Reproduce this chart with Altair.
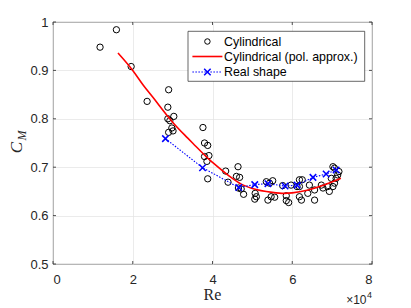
import altair as alt
import pandas as pd

# ---- data (Re in units of 1e4) ----
cyl_re = [1.18, 1.59, 1.96, 2.36, 2.90, 2.88, 3.03, 2.88, 2.93, 2.98, 3.01, 2.90,
          3.76, 3.80, 3.88, 3.80, 3.91, 3.86, 3.88, 4.33, 4.39, 4.64, 4.60, 4.68,
          4.65, 4.72, 4.78, 5.07, 5.10, 5.06, 5.35, 5.43, 5.51, 5.39, 5.47, 5.56,
          5.76, 5.85, 5.85, 5.91, 5.97, 6.18, 6.25, 6.18, 6.12, 6.18, 6.23, 6.56,
          6.43, 6.39, 6.56, 6.73, 6.77, 6.93, 6.89, 7.02, 7.06, 7.10, 6.98, 7.02,
          7.06, 7.17, 7.14]
cyl_cm = [0.948, 0.984, 0.908, 0.836, 0.860, 0.824, 0.805, 0.800, 0.796, 0.781, 0.775, 0.772,
          0.782, 0.750, 0.745, 0.722, 0.724, 0.712, 0.676, 0.692, 0.669, 0.701, 0.681, 0.679,
          0.657, 0.655, 0.644, 0.646, 0.639, 0.634, 0.670, 0.667, 0.672, 0.632, 0.639, 0.638,
          0.662, 0.641, 0.631, 0.627, 0.663, 0.674, 0.674, 0.660, 0.660, 0.639, 0.632, 0.632,
          0.663, 0.646, 0.653, 0.663, 0.657, 0.650, 0.660, 0.660, 0.667, 0.677, 0.677, 0.701,
          0.698, 0.691, 0.684]

fit_re = [1.63, 2.0, 2.26, 2.5, 2.88, 3.0, 3.38, 3.5, 3.93, 4.0, 4.43, 4.72,
          5.0, 5.5, 5.8, 6.0, 6.4, 6.8, 7.22]
fit_cm = [0.936, 0.900, 0.870, 0.845, 0.805, 0.793, 0.760, 0.750, 0.715, 0.710, 0.681, 0.665,
          0.656, 0.648, 0.646, 0.647, 0.653, 0.663, 0.677]

real_re = [2.82, 3.75, 4.66, 5.06, 5.39, 5.82, 6.12, 6.52, 6.85, 7.10]
real_cm = [0.759, 0.699, 0.658, 0.664, 0.666, 0.661, 0.663, 0.679, 0.686, 0.694]

x_ticks = [0, 20000, 40000, 60000, 80000]
y_ticks = [0.5, 0.6, 0.7, 0.8, 0.9, 1.0]
legend_labels = ["Cylindrical", "Cylindrical (pol. approx.)", "Real shape"]

SCALE = 10000
cyl = pd.DataFrame({"Re": [v * SCALE for v in cyl_re], "CM": cyl_cm})
fit = pd.DataFrame({"Re": [v * SCALE for v in fit_re], "CM": fit_cm})
real = pd.DataFrame({"Re": [v * SCALE for v in real_re], "CM": real_cm})
xt = pd.DataFrame({"Re": x_ticks})
yt = pd.DataFrame({"CM": y_ticks})
one = pd.DataFrame({"k": [0]})

W, H = 319, 242
AX = "#262626"
FONT = "Liberation Sans"
SERIF = "Liberation Serif"

xs = alt.Scale(domain=[0, 80000], nice=False, zero=False)
ys = alt.Scale(domain=[0.5, 1.0], nice=False, zero=False)

x_axis = alt.Axis(values=x_ticks, labelExpr="datum.value / 10000", title=None,
                  grid=True, gridColor="#e2e2e2", gridWidth=0.7, ticks=False,
                  domain=False, labelFont=FONT, labelFontSize=13, labelColor=AX,
                  labelPadding=9)
y_axis = alt.Axis(values=y_ticks, labelExpr="datum.value == 1 ? '1' : format(datum.value, '.1f')",
                  title=None, grid=True, gridColor="#e2e2e2", gridWidth=0.7, ticks=False,
                  domain=False, labelFont=FONT, labelFontSize=13, labelColor=AX,
                  labelPadding=5)

XE = alt.X("Re:Q", scale=xs, axis=x_axis)
YE = alt.Y("CM:Q", scale=ys, axis=y_axis)

X_SHAPE = "M-1,-1L1,1M-1,1L1,-1"

circles = alt.Chart(cyl).mark_point(shape="circle", filled=False, color="black",
                                    size=40, strokeWidth=1, opacity=1).encode(x=XE, y=YE)

fit_line = alt.Chart(fit).mark_line(color="#ff0000", strokeWidth=1.6,
                                    interpolate="monotone").encode(x=XE, y=YE)

real_line = alt.Chart(real).mark_line(color="#0000ff", strokeWidth=1.1,
                                      strokeDash=[1.5, 1.5]).encode(x=XE, y=YE)

real_pts = alt.Chart(real).mark_point(shape=X_SHAPE, color="#0000ff", size=42,
                                      strokeWidth=1.5, filled=False, opacity=1).encode(x=XE, y=YE)

# inward ticks (MATLAB style)
tick_style = dict(color=AX, strokeWidth=0.8)
xb = alt.Chart(xt).mark_rule(**tick_style).encode(x=XE, y=alt.value(H), y2=alt.value(H - 3))
xtop = alt.Chart(xt).mark_rule(**tick_style).encode(x=XE, y=alt.value(0), y2=alt.value(3))
yl = alt.Chart(yt).mark_rule(**tick_style).encode(y=YE, x=alt.value(0), x2=alt.value(3))
yr = alt.Chart(yt).mark_rule(**tick_style).encode(y=YE, x=alt.value(W), x2=alt.value(W - 3))

# legend
LX0, LX1, LY0, LY1 = 135, 311.7, 9.3, 59.3
rows = [19.5, 34.5, 50.0]
leg_box = alt.Chart(one).mark_rect(fill="white", stroke=AX, strokeWidth=0.7).encode(
    x=alt.value(LX0), x2=alt.value(LX1), y=alt.value(LY0), y2=alt.value(LY1))
leg_circ = alt.Chart(one).mark_point(shape="circle", filled=False, color="black",
                                     size=30, strokeWidth=1, opacity=1).encode(
    x=alt.value(154.4), y=alt.value(rows[0]))
leg_red = alt.Chart(one).mark_rule(color="#ff0000", strokeWidth=1.6).encode(
    x=alt.value(139.4), x2=alt.value(169.4), y=alt.value(rows[1]))
leg_blue = alt.Chart(one).mark_rule(color="#0000ff", strokeWidth=1.1, strokeDash=[1.5, 1.5]).encode(
    x=alt.value(139.4), x2=alt.value(169.4), y=alt.value(rows[2]))
leg_x = alt.Chart(one).mark_point(shape=X_SHAPE, color="#0000ff", size=42,
                                  strokeWidth=1.5, filled=False, opacity=1).encode(
    x=alt.value(154.4), y=alt.value(rows[2]))
leg_texts = [
    alt.Chart(one).mark_text(align="left", baseline="middle", font=FONT, fontSize=12.4,
                             color="black").encode(
        x=alt.value(171), y=alt.value(r), text=alt.value(t))
    for t, r in zip(legend_labels, rows)
]

# axis titles
re_title = alt.Chart(one).mark_text(align="center", baseline="alphabetic", font=SERIF,
                                    fontSize=16, color=AX).encode(
    x=alt.value(W / 2), y=alt.value(H + 36), text=alt.value("Re"))
c_title = alt.Chart(one).mark_text(align="center", baseline="middle", font=SERIF,
                                   fontSize=17, fontStyle="italic", color=AX, angle=270).encode(
    x=alt.value(17.5 - 53.3), y=alt.value(148 - 22.4), text=alt.value("C"))
m_title = alt.Chart(one).mark_text(align="center", baseline="middle", font=SERIF,
                                   fontSize=12, fontStyle="italic", color=AX, angle=270).encode(
    x=alt.value(22 - 53.3), y=alt.value(136 - 22.4), text=alt.value("M"))
mult = alt.Chart(one).mark_text(align="right", baseline="alphabetic", font=FONT,
                                fontSize=12, color=AX).encode(
    x=alt.value(313.5), y=alt.value(H + 39.5), text=alt.value("\u00d710"))
expo = alt.Chart(one).mark_text(align="left", baseline="alphabetic", font=FONT,
                                fontSize=9, color=AX).encode(
    x=alt.value(314), y=alt.value(H + 33.5), text=alt.value("4"))

chart = alt.layer(
    circles, fit_line, real_line, real_pts,
    xb, xtop, yl, yr,
    leg_box, leg_circ, leg_red, leg_blue, leg_x, *leg_texts,
    re_title, c_title, m_title, mult, expo,
).properties(
    width=W, height=H,
    autosize=alt.AutoSizeParams(type="none"),
    padding={"left": 45, "top": 14, "right": 24, "bottom": 48},
    background="white",
).configure_view(stroke=AX, strokeWidth=0.9)

chart.save("out.html", embed_options={"renderer": "svg", "actions": False})
